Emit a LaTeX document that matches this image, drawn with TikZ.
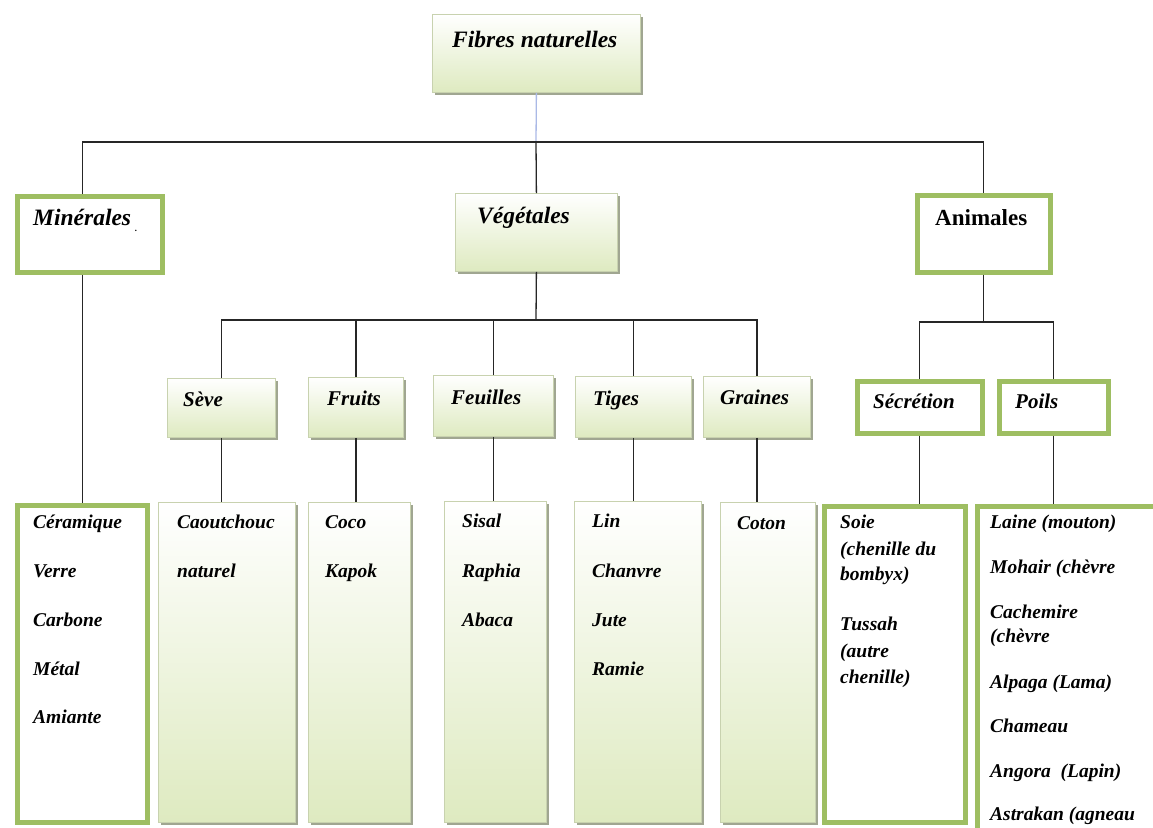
\documentclass[tikz,border=0pt]{standalone}
\usepackage{fontspec}
\setmainfont{Liberation Serif}
\usetikzlibrary{positioning,shadows}
\definecolor{olivegreen}{RGB}{158,190,98}
\definecolor{leafgreen}{RGB}{222,234,192}
\definecolor{leafedge}{RGB}{200,210,175}
\definecolor{leafshadow}{RGB}{160,166,145}
\definecolor{feedblue}{RGB}{170,185,230}
\begin{document}
\begin{tikzpicture}[x=1pt,y=-1pt,
    leafbox/.style={draw=leafedge,line width=0.8pt,top color=white,bottom color=leafgreen,
      general shadow={fill=leafshadow,shadow xshift=3pt,shadow yshift=-3pt},
      anchor=north west,inner sep=0pt},
    greenbox/.style={draw=olivegreen,line width=4.5pt,fill=white,anchor=north west,inner sep=0pt},
    head/.style={anchor=base west,inner sep=0pt,font=\fontsize{23.5}{28}\selectfont\bfseries\itshape},
    sub/.style={anchor=base west,inner sep=0pt,font=\fontsize{21}{25}\selectfont\bfseries\itshape},
    word/.style={anchor=base west,inner sep=0pt,font=\fontsize{19.5}{23}\selectfont\bfseries\itshape},
    link/.style={draw=black!85,line width=1.3pt},
    feed/.style={draw=feedblue,line width=1.3pt}]
    \useasboundingbox (0,0) rectangle (1153,827);
    \clip (0,0) rectangle (1153,827);

    \node[leafbox,minimum width=208pt,minimum height=78pt] (fibres) at (432,14) {};
    \node[head] (tFibres) at (452,47) {Fibres naturelles};

    \node[greenbox,minimum width=145pt,minimum height=76pt] (minerales) at (15,194) {};
    \node[head] (tMinerales) at (33,225) {Minérales\,\raisebox{-6pt}{\fontsize{9}{9}\selectfont.}};
    \node[leafbox,minimum width=162pt,minimum height=78pt] (vegetales) at (455,193) {};
    \node[head] (tVegetales) at (477,223) {Végétales};
    \node[greenbox,minimum width=133pt,minimum height=77pt] (animales) at (915,193) {};
    \node[head,font=\fontsize{23}{28}\selectfont\bfseries] (tAnimales) at (935,225) {Animales};

    \node[leafbox,minimum width=108pt,minimum height=59pt] (seve) at (167,378) {};
    \node[sub] (tSeve) at (183,406) {Sève};
    \node[leafbox,minimum width=95pt,minimum height=60pt] (fruits) at (308,377) {};
    \node[sub] (tFruits) at (327,405) {Fruits};
    \node[leafbox,minimum width=120pt,minimum height=61pt] (feuilles) at (433,375) {};
    \node[sub] (tFeuilles) at (451,404) {Feuilles};
    \node[leafbox,minimum width=116pt,minimum height=61pt] (tiges) at (575,376) {};
    \node[sub] (tTiges) at (593,405) {Tiges};
    \node[leafbox,minimum width=107pt,minimum height=61pt] (graines) at (703,376) {};
    \node[sub] (tGraines) at (720,404) {Graines};
    \node[greenbox,minimum width=125pt,minimum height=52pt] (secretion) at (855,379) {};
    \node[sub] (tSecretion) at (873,408) {Sécrétion};
    \node[greenbox,minimum width=109pt,minimum height=52pt] (poils) at (997,379) {};
    \node[sub] (tPoils) at (1015,408) {Poils};

    \node[greenbox,minimum width=130pt,minimum height=317pt] (mlist) at (15,503) {};
    \node[word] (wCeramique) at (33,528) {Céramique};
    \node[word] (wVerre) at (33,577) {Verre};
    \node[word] (wCarbone) at (33,626) {Carbone};
    \node[word] (wMetal) at (33,675) {Métal};
    \node[word] (wAmiante) at (33,723) {Amiante};

    \node[leafbox,minimum width=137pt,minimum height=320pt] (caout) at (158,502) {};
    \node[word] (wCaout) at (177,528) {Caoutchouc};
    \node[word] (wNaturel) at (177,577) {naturel};

    \node[leafbox,minimum width=102pt,minimum height=320pt] (coco) at (308,502) {};
    \node[word] (wCoco) at (325,528) {Coco};
    \node[word] (wKapok) at (325,577) {Kapok};

    \node[leafbox,minimum width=102pt,minimum height=321pt] (sisal) at (444,501) {};
    \node[word] (wSisal) at (462,527) {Sisal};
    \node[word] (wRaphia) at (462,577) {Raphia};
    \node[word] (wAbaca) at (462,626) {Abaca};

    \node[leafbox,minimum width=127pt,minimum height=321pt] (lin) at (574,501) {};
    \node[word] (wLin) at (592,527) {Lin};
    \node[word] (wChanvre) at (592,577) {Chanvre};
    \node[word] (wJute) at (592,626) {Jute};
    \node[word] (wRamie) at (592,675) {Ramie};

    \node[leafbox,minimum width=95pt,minimum height=320pt] (coton) at (720,502) {};
    \node[word] (wCoton) at (737,529) {Coton};

    \node[greenbox,minimum width=141pt,minimum height=316pt] (soie) at (822,504) {};
    \node[word] (wSoie) at (840,528) {Soie};
    \node[word] (wChenille) at (840,555) {(chenille du};
    \node[word] (wBombyx) at (840,580) {bombyx)};
    \node[word] (wTussah) at (840,630) {Tussah};
    \node[word] (wAutre) at (840,657) {(autre};
    \node[word] (wChenilleB) at (840,683) {chenille)};

    \node[greenbox,minimum width=260pt,minimum height=400pt] (laine) at (975,504) {};
    \node[word] (wLaine) at (990,528) {Laine (mouton)};
    \node[word] (wMohair) at (990,573) {Mohair (chèvre};
    \node[word] (wCachemire) at (990,618) {Cachemire};
    \node[word] (wChevre) at (990,642) {(chèvre};
    \node[word] (wAlpaga) at (990,688) {Alpaga (Lama)};
    \node[word] (wChameau) at (990,732) {Chameau};
    \node[word] (wAngora) at (990,777) {Angora\ \ (Lapin)};
    \node[word] (wAstrakan) at (990,820) {Astrakan (agneau};

    \coordinate (hubTop) at (536,142);
    \coordinate (hubVeg) at (536,320);
    \coordinate (hubAni) at (animales.south |- 0,322);

    \draw[feed] (fibres.south) -- (hubTop);
    \draw[link] (mlist.north |- minerales.north) |- (hubTop) -| (animales.north);
    \draw[link] (hubTop) -- (vegetales.north);
    \draw[link] (minerales.south -| mlist.north) -- (mlist.north);

    \draw[link] (vegetales.south) -- (hubVeg);
    \draw[link] (seve.north) |- (hubVeg) -| (graines.north);
    \draw[link] (fruits.north) -- (fruits.north |- hubVeg);
    \draw[link] (feuilles.north) -- (feuilles.north |- hubVeg);
    \draw[link] (tiges.north) -- (tiges.north |- hubVeg);
    \draw[link] (seve.south) -- (seve.south |- caout.north);
    \draw[link] (fruits.south) -- (fruits.south |- coco.north);
    \draw[link] (feuilles.south) -- (feuilles.south |- sisal.north);
    \draw[link] (tiges.south) -- (tiges.south |- lin.north);
    \draw[link] (graines.south) -- (graines.south |- coton.north);

    \draw[link] (animales.south) -- (hubAni);
    \draw[link] (secretion.north) |- (hubAni) -| (poils.north);
    \draw[link] (secretion.south) -- (secretion.south |- soie.north);
    \draw[link] (poils.south) -- (poils.south |- laine.north);
\end{tikzpicture}
\end{document}
